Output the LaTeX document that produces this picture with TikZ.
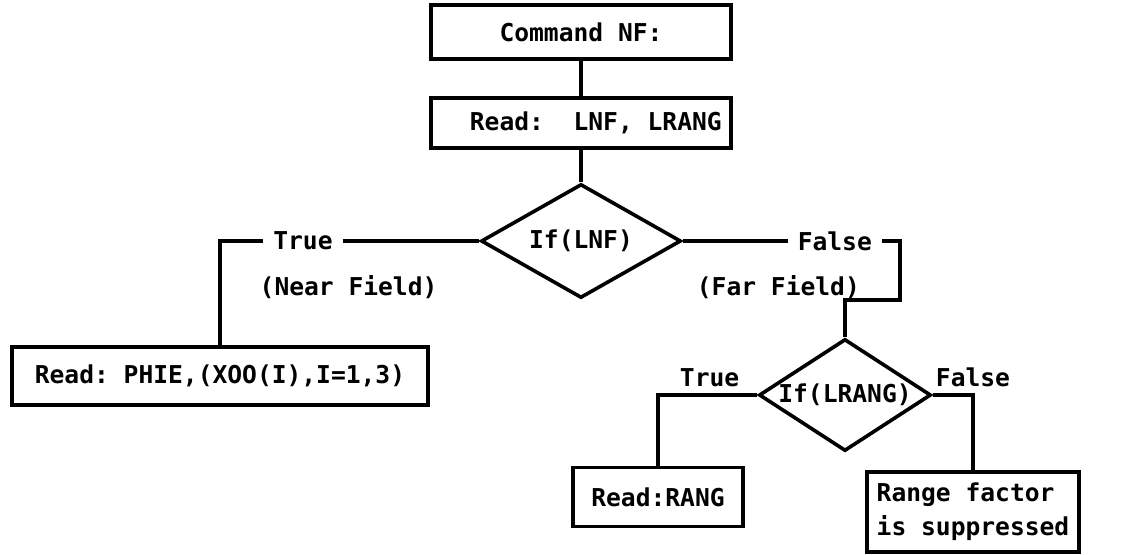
\documentclass[tikz,border=0pt]{standalone}
\usepackage{fontspec}
\setmonofont{DejaVu Sans Mono}
\usetikzlibrary{positioning,shapes.geometric}
\tikzset{node distance=2cm,
  every node/.style={font=\ttfamily\bfseries\fontsize{12.3pt}{17pt}\selectfont},
  box/.style={draw, rectangle, line width=1.8pt, inner sep=2pt},
  test/.style={draw, diamond, line width=1.8pt, inner sep=0pt},
  flow/.style={line width=1.6pt},
  lab/.style={fill=white, inner sep=5pt}}

\begin{document}
\begin{tikzpicture}[x=0.5pt, y=-0.5pt]
      \useasboundingbox (0,0) rectangle (1126,554);
      \node (CMD)  [box, minimum width=150pt, minimum height=27pt] at (581,32)  {Command NF:};
      \node (RD)   [box, minimum width=150pt, minimum height=25pt] at (581,123) {~~Read:~~LNF, LRANG};
      \node (IFNF) [test, minimum width=100pt, minimum height=57pt, aspect=1.75] at (581,241) {If(LNF)};
      \node (PHIE) [box, minimum width=208pt, minimum height=29pt] at (220,376) {Read: PHIE,(XOO(I),I=1,3)};
      \node (IFRG) [test, minimum width=86pt, minimum height=56pt, aspect=1.5] at (845,395) {If(LRANG)};
      \node (RANG) [box, minimum width=85pt, minimum height=29.5pt] at (658,497) {Read:RANG};
      \node (SUPP) [box, minimum width=106pt, minimum height=40pt, inner sep=5pt, align=left] at (973,512) {Range factor\\is suppressed};
      \coordinate (FA) at (900,241);
      \coordinate (FB) at (900,300);

      \draw[flow] (CMD) to (RD);
      \draw[flow] (RD) to (IFNF);
      \draw[flow] (IFNF.west) -| node[lab, pos=.34] {True}
        node[pos=.252, yshift=-23pt] {(Near Field)} (PHIE.north);
      \draw[flow] (IFNF.east) -- node[lab, pos=.70] {False}
        node[pos=.44, yshift=-23pt] {(Far Field)} (FA) -- (FB) -| (IFRG.north);
      \draw[flow] (IFRG.west) -| node[pos=.24, above] {True} (RANG.north);
      \draw[flow] (IFRG.east) -| node[pos=.5, above] {False} (SUPP.north);
    \end{tikzpicture}
\end{document}
